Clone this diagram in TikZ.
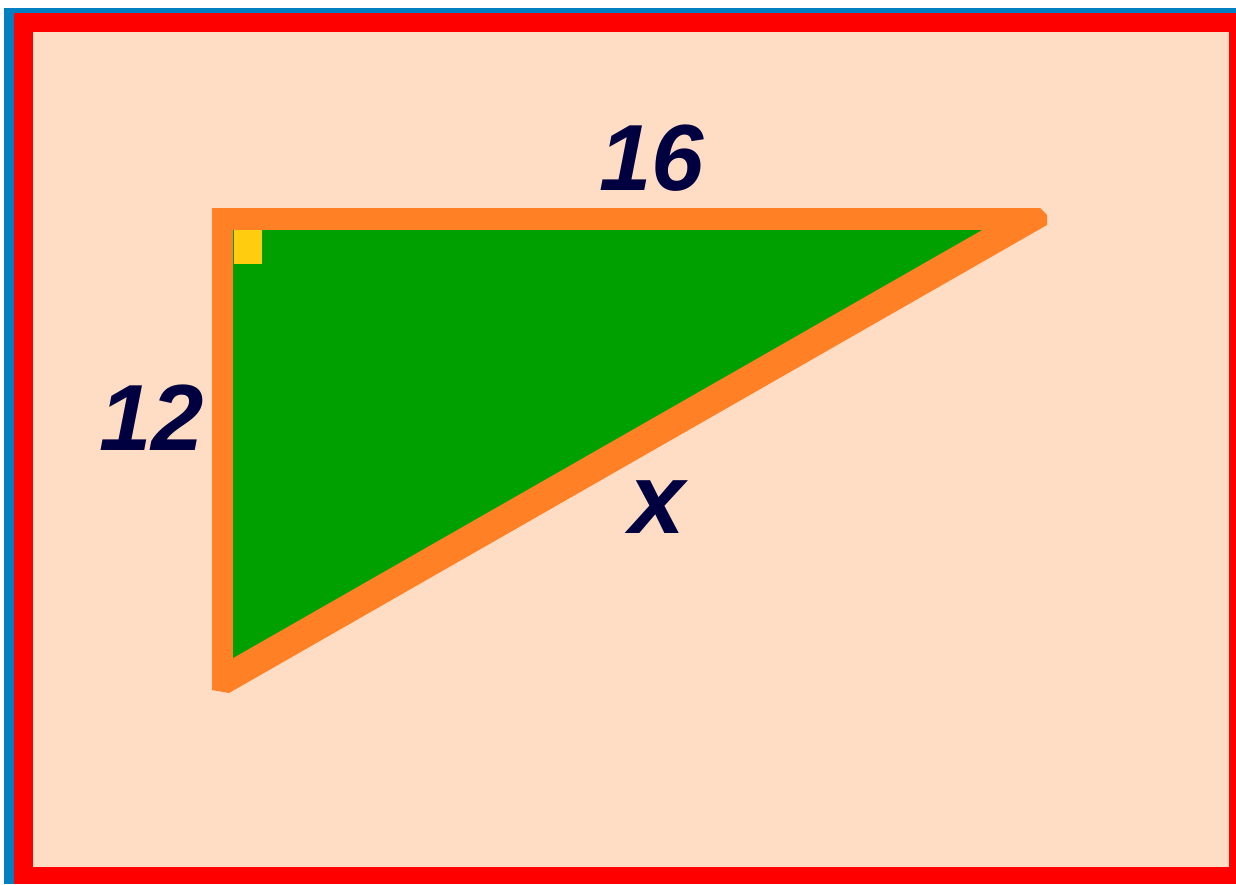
\documentclass[tikz,border=0pt]{standalone}
\usepackage{fontspec}
\setmainfont{Liberation Sans}
\definecolor{bgpeach}{RGB}{255,221,197}
\definecolor{frameblue}{RGB}{0,128,192}
\definecolor{framered}{RGB}{255,0,0}
\definecolor{edgeorange}{RGB}{255,128,37}
\definecolor{fillgreen}{RGB}{0,160,0}
\definecolor{markyellow}{RGB}{255,204,16}
\definecolor{textnavy}{RGB}{0,0,64}
\tikzset{
  lbl/.style={inner sep=0pt, text=textnavy, font=\bfseries\itshape\fontsize{94}{94}\selectfont},
  xlbl/.style={inner sep=0pt, text=textnavy, font=\bfseries\itshape\fontsize{100}{100}\selectfont}
}
\begin{document}
\begin{tikzpicture}[x=1pt,y=-1pt]
\useasboundingbox (0,0) rectangle (1236,884);
\fill[white] (0,0) rectangle (1236,884);
% frame
\fill[frameblue] (4,8) rectangle (1236,884);
\fill[framered] (14,13) rectangle (1236,884);
\fill[bgpeach] (33,32) rectangle (1229,867);
% triangle: orange outline as outer polygon, green interior
\coordinate (A) at (212,208);
\coordinate (B1) at (1040,208);
\coordinate (B2) at (1047,215);
\coordinate (B3) at (1047,225);
\coordinate (C1) at (229,693);
\coordinate (C2) at (212,690);
\fill[edgeorange] (A) -- (B1) -- (B2) -- (B3) -- (C1) -- (C2) -- cycle;
\coordinate (a) at (233,230);
\coordinate (b) at (982,230);
\coordinate (c) at (233,658);
\fill[fillgreen] (a) -- (b) -- (c) -- cycle;
% right-angle mark
\fill[markyellow] (234,230) rectangle (262,264);
% labels
\node[lbl] (top) at (652,158) {16};
\node[lbl] (left) at (152,418) {12};
\node[xlbl] (hyp) at (657,507) {x};
\end{tikzpicture}
\end{document}
